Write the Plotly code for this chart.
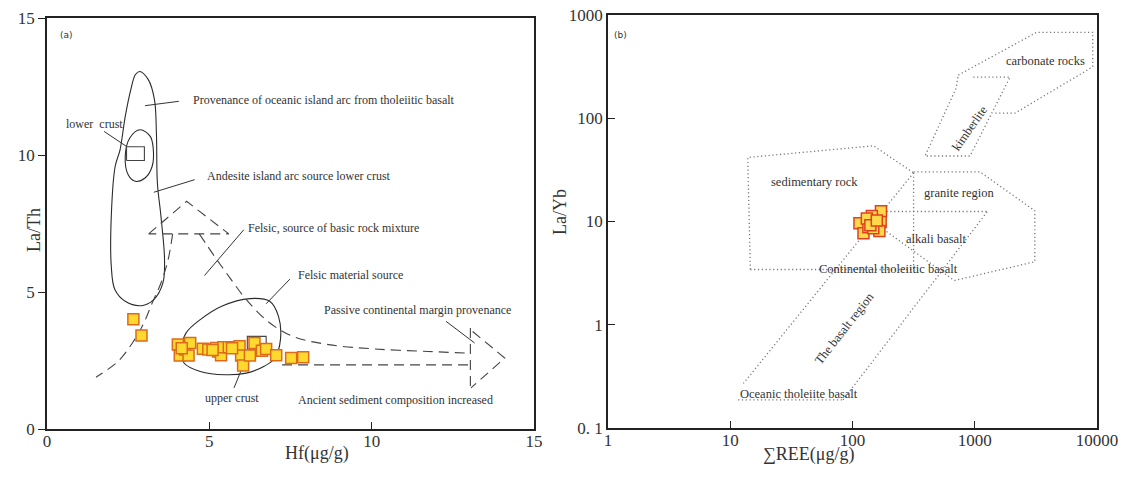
import math
import plotly.graph_objects as go

# ---------------- Panel (a) data: Hf vs La/Th ----------------
hf = [2.66, 2.91, 4.03, 4.09, 4.25, 4.41, 4.36, 4.80, 4.97, 5.21, 5.27, 5.36,
      5.43, 5.60, 5.93, 5.98, 6.04, 6.25, 6.39, 6.62, 6.75, 7.06, 7.52, 7.89,
      4.15, 5.10, 5.70]
la_th = [4.01, 3.41, 3.08, 2.68, 2.90, 3.14, 2.68, 2.93, 2.90, 2.96, 2.83, 2.69,
         2.98, 2.98, 3.02, 2.68, 2.32, 2.68, 3.14, 2.86, 2.92, 2.69, 2.59, 2.62,
         2.95, 2.88, 2.95]

# region outlines (a)
arc_x = [2.85, 3.12, 3.31, 3.37, 3.40, 3.51, 3.62, 3.57, 3.29, 2.91, 2.41, 2.09,
         1.98, 1.98, 2.10, 2.25, 2.41, 2.58, 2.72, 2.85]
arc_y = [13.05, 12.75, 12.02, 10.8, 8.98, 7.76, 6.18, 5.33, 4.72, 4.50, 4.66, 5.09,
         5.94, 7.76, 9.59, 10.19, 11.41, 12.38, 12.93, 13.05]
and_x = [2.87, 3.18, 3.27, 3.24, 3.02, 2.72, 2.50, 2.41, 2.55, 2.87]
and_y = [10.92, 10.68, 10.26, 9.59, 9.16, 9.04, 9.28, 9.95, 10.62, 10.92]
fel_x = [4.14, 4.28, 4.72, 5.38, 6.25, 6.86, 7.13, 7.19, 7.02, 6.69, 6.14, 5.49,
         4.72, 4.22, 4.14]
fel_y = [2.90, 3.50, 3.99, 4.48, 4.76, 4.66, 4.11, 3.26, 2.59, 2.29, 2.04, 1.98,
         2.10, 2.41, 2.90]
lower_box_x = [2.45, 3.00, 3.00, 2.45, 2.45]
lower_box_y = [9.80, 9.80, 10.30, 10.30, 9.80]
upper_box_x = [6.17, 6.75, 6.75, 6.17, 6.17]
upper_box_y = [2.92, 2.92, 3.38, 3.38, 2.92]
tri_x = [3.13, 4.30, 5.60, 3.13]
tri_y = [7.12, 8.31, 7.12, 7.12]
lcurve_x = [3.87, 3.73, 3.51, 3.24, 2.96, 2.63, 2.19, 1.51]
lcurve_y = [7.12, 6.18, 5.33, 4.60, 3.81, 3.14, 2.47, 1.89]
rcurve_x = [4.69, 5.16, 5.60, 6.14, 6.80, 7.57, 8.67, 10.10, 11.74, 12.95]
rcurve_y = [7.12, 6.30, 5.57, 4.72, 3.93, 3.38, 3.08, 2.92, 2.83, 2.77]
low_x = [7.24, 13.0]
low_y = [2.34, 2.34]
bar_x = [13.04, 13.04]
bar_y = [3.69, 1.44]
head_x = [13.11, 14.10, 13.06]
head_y = [3.56, 2.59, 1.50]
leaders_a = [
    ([3.02, 4.06], [11.80, 11.96]),
    ([1.76, 2.44], [10.86, 10.32]),
    ([3.29, 4.55], [8.64, 9.10]),
    ([4.85, 6.06], [5.60, 7.27]),
    ([6.75, 7.48], [4.57, 5.47]),
    ([12.29, 13.17], [3.93, 3.14]),
    ([5.76, 6.25], [1.50, 2.92]),
]
labels_a = [
    ("Provenance of oceanic island arc from tholeiitic basalt", 4.45, 12.0, "left"),
    ("lower  crust", 1.46, 11.14, "center"),
    ("Andesite island arc source lower crust", 4.88, 9.25, "left"),
    ("Felsic, source of basic rock mixture", 6.14, 7.32, "left"),
    ("Felsic material source", 7.66, 5.62, "left"),
    ("Passive continental margin provenance", 8.48, 4.36, "left"),
    ("upper crust", 5.71, 1.13, "center"),
    ("Ancient sediment composition increased", 10.74, 1.07, "center"),
]

# ---------------- Panel (b) data: ΣREE vs La/Yb ----------------
ree = [114, 123, 144, 171, 170, 166, 144, 135, 148, 131, 140, 158]
la_yb = [9.6, 7.7, 10.4, 12.6, 9.9, 8.1, 11.3, 8.8, 8.6, 10.7, 9.2, 10.2]

sed_x = [14.6, 13.9, 149, 316]
sed_y = [3.43, 41.7, 54.1, 29.6]
sed_bottom_x = [14.6, 316]
sed_bottom_y = [3.43, 3.43]
vert_x = [316, 316]
vert_y = [29.6, 3.3]
gran_x = [316, 1100, 3100, 3100, 680]
gran_y = [30.3, 30.3, 12.7, 4.08, 2.68]
alk_top_x = [190, 1270]
alk_top_y = [12.5, 12.5]
alk_diag_x = [190, 680]
alk_diag_y = [8.0, 2.68]
bas_left_x = [316, 12.8]
bas_left_y = [29.6, 0.27]
bas_bottom_x = [11.6, 83.6]
bas_bottom_y = [0.187, 0.187]
bas_right_x = [83.6, 1270]
bas_right_y = [0.187, 12.5]
kim_x = [973, 1942, 915, 392, 703, 734]
kim_y = [250, 250, 43.1, 43.1, 195, 262]
carb_x = [734, 3210, 9230, 9230, 2134, 1419]
carb_y = [262, 680, 680, 315, 112, 112]
labels_b = [
    ("carbonate rocks", 3780, 361, 0),
    ("kimberlite", 915, 80, -55),
    ("sedimentary rock", 48.7, 24.3, 0),
    ("granite region", 757, 18.8, 0),
    ("alkali basalt", 489, 6.78, 0),
    ("Continental tholeiitic basalt", 196, 3.47, 0),
    ("The basalt region", 86.8, 0.92, -52),
    ("Oceanic tholeiite basalt", 36.5, 0.213, 0),
]

x_ticks_a = [0, 5, 10, 15]
y_ticks_a = [0, 5, 10, 15]
x_ticks_b = [1, 10, 100, 1000, 10000]
x_ticktext_b = ["1", "10", "100", "1000", "10000"]
y_ticks_b = [0.1, 1, 10, 100, 1000]
y_ticktext_b = ["0. 1", "1", "10", "100", "1000"]

# ---------------- figure ----------------
FONT = "Liberation Serif"
LINE = "#2b2b2b"
fig = go.Figure()


def add_line(x, y, ax="x", ay="y", dash="solid", shape="linear", color=LINE, width=1.1):
    fig.add_trace(go.Scatter(x=x, y=y, mode="lines", xaxis=ax, yaxis=ay,
                             line=dict(color=color, width=width, dash=dash, shape=shape),
                             hoverinfo="skip", showlegend=False))


# panel a outlines
add_line(arc_x, arc_y, shape="spline")
add_line(and_x, and_y, shape="spline")
add_line(fel_x, fel_y, shape="spline")
add_line(lower_box_x, lower_box_y, color="#444")
add_line(upper_box_x, upper_box_y, color="#444")
DASH = "10px,6px"
add_line(tri_x, tri_y, dash=DASH, color="#444")
add_line(lcurve_x, lcurve_y, dash=DASH, shape="spline", color="#444")
add_line(rcurve_x, rcurve_y, dash=DASH, shape="spline", color="#444")
add_line(low_x, low_y, dash=DASH, color="#444")
add_line(bar_x, bar_y, dash=DASH, color="#444")
add_line(head_x, head_y, dash=DASH, color="#444")
for lx, ly in leaders_a:
    add_line(lx, ly, color="#333", width=1)

fig.add_trace(go.Scatter(x=hf, y=la_th, mode="markers", xaxis="x", yaxis="y",
                         marker=dict(symbol="square", size=11, color="#FFD92E",
                                     line=dict(color="#DD6A1C", width=1.5)),
                         showlegend=False))

# panel b outlines
DOT = "#777777"
for xs, ys in [(sed_x, sed_y), (sed_bottom_x, sed_bottom_y), (vert_x, vert_y),
               (gran_x, gran_y), (alk_top_x, alk_top_y), (alk_diag_x, alk_diag_y),
               (bas_left_x, bas_left_y), (bas_bottom_x, bas_bottom_y),
               (bas_right_x, bas_right_y), (kim_x, kim_y), (carb_x, carb_y)]:
    add_line(xs, ys, ax="x2", ay="y2", dash="1.2px,2.6px", color=DOT, width=1.3)

fig.add_trace(go.Scatter(x=ree, y=la_yb, mode="markers", xaxis="x2", yaxis="y2",
                         marker=dict(symbol="square", size=11, color="#FFD94A",
                                     line=dict(color="#E0401E", width=1.5)),
                         showlegend=False))

annotations = []
for txt, x, y, anc in labels_a:
    annotations.append(dict(text=txt, x=x, y=y, xref="x", yref="y", xanchor=anc,
                            yanchor="middle", showarrow=False,
                            font=dict(family=FONT, size=12, color="#333")))
for txt, x, y, ang in labels_b:
    # annotation positions on log axes are given in log10 units
    annotations.append(dict(text=txt, x=math.log10(x), y=math.log10(y), xref="x2",
                            yref="y2", xanchor="center", yanchor="middle",
                            showarrow=False, textangle=ang,
                            font=dict(family=FONT, size=12.5, color="#333")))
# panel tags & axis titles
annotations += [
    dict(text="(a)", x=58 / 1128, y=1 - 28 / 477, xref="paper", yref="paper",
         showarrow=False, font=dict(family="DejaVu Sans", size=9, color="#333")),
    dict(text="(b)", x=620 / 1128, y=1 - 28 / 477, xref="paper", yref="paper",
         showarrow=False, font=dict(family="DejaVu Sans", size=9, color="#333")),
    dict(text="Hf(μg/g)", x=283 / 1128, y=1 - 466 / 477, xref="paper", yref="paper",
         showarrow=False, font=dict(family=FONT, size=18, color="#333")),
    dict(text="∑REE(μg/g)", x=856 / 1128, y=1 - 467 / 477, xref="paper", yref="paper",
         showarrow=False, font=dict(family=FONT, size=18, color="#333")),
    dict(text="La/Th", x=22 / 1128, y=1 - 230 / 477, xref="paper", yref="paper",
         showarrow=False, textangle=-90, font=dict(family=FONT, size=18, color="#333")),
    dict(text="La/Yb", x=560 / 1128, y=1 - 212 / 477, xref="paper", yref="paper",
         showarrow=False, textangle=-90, font=dict(family=FONT, size=18, color="#333")),
]

axis_common = dict(showline=True, linecolor="#222", linewidth=1.6, mirror=True,
                   showgrid=False, zeroline=False, ticklen=7, tickwidth=1,
                   tickcolor="#222", tickfont=dict(family=FONT, size=17, color="#333"),
                   automargin=False, ticklabeloverflow="allow")

fig.update_layout(
    width=1128, height=477,
    margin=dict(l=0, r=0, t=0, b=0),
    paper_bgcolor="white", plot_bgcolor="white",
    showlegend=False,
    annotations=annotations,
    xaxis=dict(domain=[47 / 1128, 534 / 1128], range=[0, 15], tickvals=x_ticks_a,
               ticks="inside", ticklabelstandoff=-4, anchor="y", **axis_common),
    yaxis=dict(domain=[1 - 429 / 477, 1 - 18 / 477], range=[0, 15], tickvals=y_ticks_a,
               ticks="outside", anchor="x", **axis_common),
    xaxis2=dict(domain=[608 / 1128, 1097 / 1128], type="log", range=[0, 4],
                tickvals=x_ticks_b, ticktext=x_ticktext_b, ticks="inside",
                ticklabelstandoff=-4, anchor="y2", **axis_common),
    yaxis2=dict(domain=[1 - 428 / 477, 1 - 15 / 477], type="log", range=[-1, 3],
                tickvals=y_ticks_b, ticktext=y_ticktext_b, ticks="inside",
                anchor="x2", **axis_common),
)

fig.write_html("out.html",
               config={"displayModeBar": False},
               post_script="document.body.style.margin='0';document.body.style.overflow='hidden';")
